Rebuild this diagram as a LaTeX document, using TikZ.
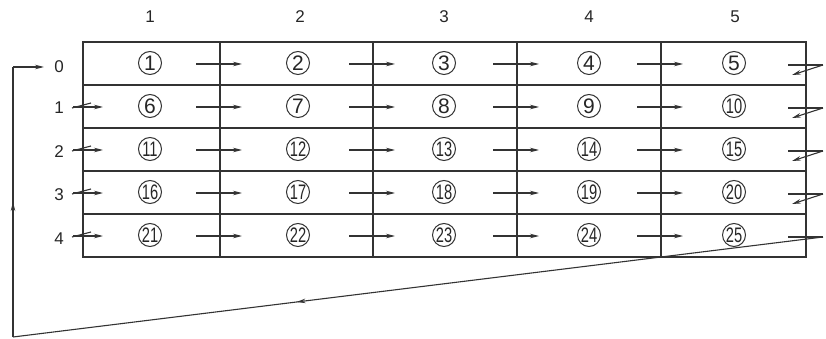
\documentclass[tikz,border=0pt]{standalone}
\usepackage{fontspec}
\setmainfont{Liberation Sans}
\usetikzlibrary{arrows.meta,decorations.markings,calc}
\begin{document}
\begin{tikzpicture}[x=1pt,y=-1pt,
  gridline/.style={line width=1.4pt, draw=black!80},
  arr/.style={line width=1.1pt, draw=black!80, -{Stealth[length=9pt,width=4.5pt]}},
  ln/.style={line width=1.1pt, draw=black!80},
  midarr/.style={postaction={decorate}, decoration={markings, mark=at position #1 with {\arrow{Stealth[length=9pt,width=4.5pt]}}}},
  cnum/.style={circle,draw=black!80,line width=1pt,minimum size=23pt,inner sep=0pt,font=\fontsize{21}{21}\selectfont, text=black!85},
  lab/.style={inner sep=0pt,font=\fontsize{17}{17}\selectfont, text=black!85}]
\useasboundingbox (0,0) rectangle (826,339);
% grid
\draw[gridline] (83,42) rectangle (806,257);
\foreach \yy in {85,128,171,214} \draw[gridline] (83,\yy) -- (806,\yy);
\foreach \xx in {220,373,517,661} \draw[gridline] (\xx,42) -- (\xx,257);
% column labels
\foreach \c/\x in {1/150,2/300,3/444,4/589,5/735}
  \node[lab] (col\c) at (\x,17) {\c};
% row labels
\foreach \r/\y in {0/67,1/108,2/152,3/195,4/239}
  \node[lab] (row\r) at (59,\y) {\r};
% circled numbers and arrows
\foreach \r/\y in {0/64,1/107,2/150,3/193,4/236}{
  \foreach \c/\x in {1/150,2/298,3/444,4/589,5/734}{
    \pgfmathtruncatemacro\n{5*\r+\c}
    \node[cnum] (n\n) at (\x,\y-1) {\ifnum\n<10 \n\else\scalebox{0.7}[1]{\n}\fi};
  }
  \foreach \X in {220,373,517,661}{
    \coordinate (s-\r-\X) at (\X-24,\y);
    \coordinate (e-\r-\X) at (\X+22,\y);
    \draw[arr] (s-\r-\X) -- (e-\r-\X);
  }
  \coordinate (o-\r) at (788,\y+1);
  \coordinate (p-\r) at (823,\y+1);
  \draw[ln] (o-\r) -- (p-\r);
}
% right-side returns (rows 0-3)
\foreach \r/\y in {0/64,1/107,2/150,3/193}{
  \coordinate (q-\r) at (792,\y+11);
  \draw[arr] (p-\r) -- (q-\r);
}
% left-side entries (rows 1-4)
\foreach \r/\y in {1/107,2/150,3/193,4/236}{
  \coordinate (t-\r) at (72,\y+1);
  \coordinate (u-\r) at (91,\y-4);
  \draw[ln] (t-\r) -- (u-\r);
  \coordinate (l-\r) at (73,\y);
  \coordinate (m-\r) at (103,\y);
  \draw[arr] (l-\r) -- (m-\r);
}
% long return path
\coordinate (bl) at (13,337);
\coordinate (tl) at (13,67);
\coordinate (in0) at (44,67);
\draw[ln, midarr=0.65] (p-4) -- (bl);
\draw[ln, midarr=0.5] (bl) -- (tl);
\draw[arr] (tl) -- (in0);
\end{tikzpicture}
\end{document}
